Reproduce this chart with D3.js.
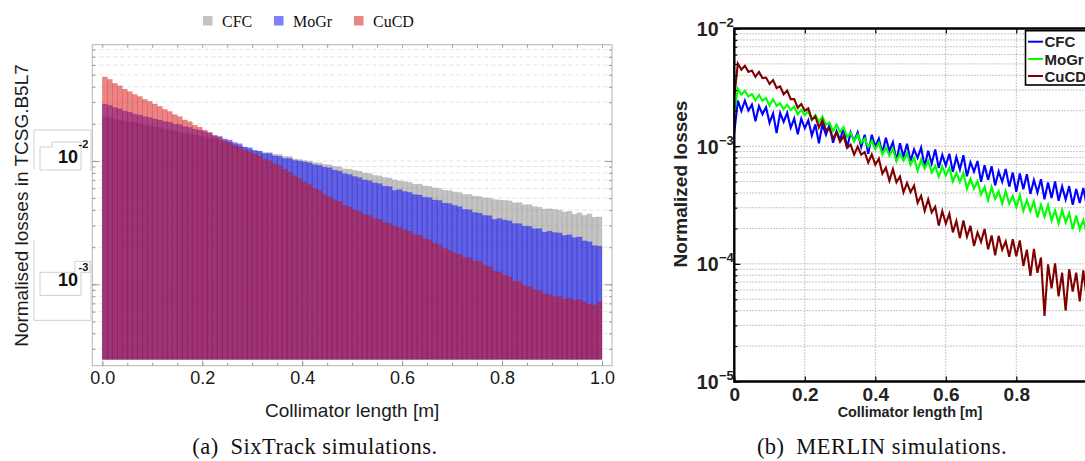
<!DOCTYPE html>
<html>
<head>
<meta charset="utf-8">
<script src="https://cdn.jsdelivr.net/npm/d3@7"></script>
<style>
  body { margin: 0; background: #fff; }
  svg { display: block; }
</style>
</head>
<body>
<svg id="fig" width="1085" height="461"></svg>
<script>
// ---------- data: (a) SixTrack histogram, 100 bins of 0.01 m ----------
const binWidth = 0.01;
const seriesNames = ["CFC", "MoGr", "CuCD"];

const cfcHist = [
  0.0228, 0.0224, 0.0219, 0.0215, 0.0211, 0.0207, 0.0204, 0.0200, 0.0196, 0.0193,
  0.0189, 0.0186, 0.0182, 0.0179, 0.0175, 0.0172, 0.0169, 0.0166, 0.0163, 0.0160,
  0.0157, 0.0154, 0.0151, 0.0148, 0.0145, 0.0142, 0.0137, 0.0133, 0.0129, 0.0125,
  0.0121, 0.0120, 0.0117, 0.0117, 0.0113, 0.0113, 0.0109, 0.0109, 0.0104, 0.0103,
  0.0101, 0.00998, 0.00970, 0.00965, 0.00938, 0.00932, 0.00905, 0.00895, 0.00862, 0.00858,
  0.00838, 0.00826, 0.00798, 0.00792, 0.00765, 0.00758, 0.00735, 0.00728, 0.00702, 0.00690,
  0.00682, 0.00672, 0.00650, 0.00650, 0.00628, 0.00624, 0.00605, 0.00598, 0.00578, 0.00575,
  0.00561, 0.00555, 0.00536, 0.00536, 0.00518, 0.00515, 0.00503, 0.00500, 0.00486, 0.00483,
  0.00480, 0.00475, 0.00458, 0.00460, 0.00442, 0.00443, 0.00428, 0.00422, 0.00408, 0.00410,
  0.00405, 0.00400, 0.00386, 0.00390, 0.00370, 0.00380, 0.00362, 0.00372, 0.00350, 0.00352
];
const mogrHist = [
  0.0290, 0.0283, 0.0271, 0.0265, 0.0254, 0.0249, 0.0240, 0.0236, 0.0229, 0.0225,
  0.0219, 0.0215, 0.0209, 0.0206, 0.0199, 0.0197, 0.0190, 0.0187, 0.0181, 0.0178,
  0.0173, 0.0168, 0.0161, 0.0158, 0.0151, 0.0148, 0.0141, 0.0138, 0.0130, 0.0128,
  0.0122, 0.0120, 0.0115, 0.0115, 0.0110, 0.0109, 0.0105, 0.0105, 0.0101, 0.0100,
  0.00982, 0.00965, 0.00932, 0.00922, 0.00890, 0.00880, 0.00843, 0.00828, 0.00790, 0.00776,
  0.00748, 0.00732, 0.00702, 0.00692, 0.00664, 0.00655, 0.00625, 0.00620, 0.00578, 0.00586,
  0.00566, 0.00556, 0.00534, 0.00530, 0.00508, 0.00504, 0.00483, 0.00478, 0.00455, 0.00452,
  0.00436, 0.00426, 0.00405, 0.00402, 0.00382, 0.00378, 0.00362, 0.00360, 0.00336, 0.00342,
  0.00332, 0.00327, 0.00311, 0.00310, 0.00296, 0.00295, 0.00282, 0.00283, 0.00265, 0.00270,
  0.00263, 0.00261, 0.00249, 0.00252, 0.00239, 0.00242, 0.00225, 0.00221, 0.00206, 0.00204
];
const cucdHist = [
  0.0480, 0.0458, 0.0426, 0.0407, 0.0382, 0.0365, 0.0346, 0.0333, 0.0316, 0.0304,
  0.0290, 0.0277, 0.0262, 0.0252, 0.0238, 0.0229, 0.0215, 0.0208, 0.0195, 0.0188,
  0.0178, 0.0171, 0.0160, 0.0155, 0.0146, 0.0141, 0.0133, 0.0130, 0.0123, 0.0119,
  0.0114, 0.0110, 0.0103, 0.0100, 0.00950, 0.00915, 0.00855, 0.00812, 0.00758, 0.00720,
  0.00676, 0.00642, 0.00600, 0.00575, 0.00536, 0.00513, 0.00485, 0.00467, 0.00438, 0.00424,
  0.00401, 0.00389, 0.00368, 0.00362, 0.00342, 0.00335, 0.00318, 0.00312, 0.00295, 0.00289,
  0.00276, 0.00269, 0.00252, 0.00250, 0.00234, 0.00230, 0.00215, 0.00209, 0.00195, 0.00189,
  0.00179, 0.00175, 0.00165, 0.00164, 0.00154, 0.00153, 0.00143, 0.00139, 0.00128, 0.00126,
  0.00119, 0.00115, 0.00106, 0.00105, 0.000975, 0.000955, 0.000905, 0.000890, 0.000835, 0.000825,
  0.000789, 0.000800, 0.000760, 0.000775, 0.000740, 0.000750, 0.000720, 0.000690, 0.000680, 0.000720
];

// ---------- data: (b) MERLIN losses, sampled every 0.01 m ----------
const lossStep = 0.01;
const cfcLoss = [
  1.30e-3, 2.44e-3, 1.99e-3, 2.44e-3, 2.01e-3, 2.26e-3, 1.63e-3, 2.19e-3, 1.87e-3, 2.14e-3,
  1.58e-3, 1.90e-3, 1.29e-3, 1.92e-3, 1.61e-3, 1.92e-3, 1.43e-3, 1.72e-3, 1.26e-3, 1.71e-3,
  1.42e-3, 1.66e-3, 1.23e-3, 1.53e-3, 1.06e-3, 1.53e-3, 1.25e-3, 1.52e-3, 1.07e-3, 1.34e-3,
  1.13e-3, 1.43e-3, 9.64e-4, 1.31e-3, 1.11e-3, 1.31e-3, 9.86e-4, 1.25e-3, 8.59e-4, 1.25e-3,
  9.90e-4, 1.16e-3, 8.72e-4, 1.18e-3, 9.10e-4, 1.08e-3, 7.50e-4, 1.06e-3, 8.14e-4, 1.05e-3,
  7.48e-4, 9.38e-4, 7.96e-4, 9.72e-4, 6.73e-4, 9.13e-4, 7.10e-4, 9.37e-4, 6.53e-4, 8.43e-4,
  6.84e-4, 8.63e-4, 6.07e-4, 8.10e-4, 6.34e-4, 8.38e-4, 5.54e-4, 7.31e-4, 6.08e-4, 7.48e-4,
  4.98e-4, 6.89e-4, 5.17e-4, 6.75e-4, 4.64e-4, 6.10e-4, 4.98e-4, 6.39e-4, 4.53e-4, 5.96e-4,
  4.10e-4, 5.85e-4, 4.31e-4, 5.78e-4, 3.93e-4, 5.15e-4, 4.04e-4, 5.23e-4, 3.54e-4, 4.92e-4,
  3.63e-4, 5.01e-4, 3.44e-4, 4.54e-4, 3.51e-4, 4.58e-4, 3.18e-4, 4.33e-4, 3.29e-4, 4.41e-4, 3.12e-4
];
const mogrLoss = [
  1.90e-3, 3.07e-3, 2.74e-3, 2.96e-3, 2.64e-3, 2.77e-3, 2.45e-3, 2.72e-3, 2.43e-3, 2.56e-3,
  2.21e-3, 2.51e-3, 2.20e-3, 2.31e-3, 2.06e-3, 2.25e-3, 2.03e-3, 2.17e-3, 1.86e-3, 2.04e-3,
  1.83e-3, 1.99e-3, 1.66e-3, 1.84e-3, 1.61e-3, 1.79e-3, 1.52e-3, 1.59e-3, 1.34e-3, 1.52e-3,
  1.32e-3, 1.45e-3, 1.20e-3, 1.30e-3, 1.10e-3, 1.25e-3, 1.07e-3, 1.16e-3, 9.84e-4, 1.11e-3,
  9.40e-4, 1.07e-3, 8.51e-4, 9.75e-4, 8.31e-4, 9.48e-4, 7.45e-4, 8.65e-4, 7.54e-4, 8.67e-4,
  6.92e-4, 7.95e-4, 6.18e-4, 7.68e-4, 6.46e-4, 7.48e-4, 5.97e-4, 6.79e-4, 5.49e-4, 6.70e-4,
  5.64e-4, 6.54e-4, 5.01e-4, 5.93e-4, 4.96e-4, 5.93e-4, 4.35e-4, 5.27e-4, 4.37e-4, 5.03e-4,
  3.89e-4, 4.51e-4, 3.47e-4, 4.50e-4, 3.56e-4, 4.14e-4, 3.25e-4, 4.14e-4, 3.24e-4, 3.78e-4,
  3.05e-4, 3.84e-4, 2.82e-4, 3.48e-4, 2.80e-4, 3.38e-4, 2.48e-4, 3.17e-4, 2.51e-4, 3.16e-4,
  2.34e-4, 2.85e-4, 2.20e-4, 2.87e-4, 2.25e-4, 2.70e-4, 1.97e-4, 2.58e-4, 1.96e-4, 2.35e-4, 1.80e-4
];
const cucdLoss = [
  2.60e-3, 5.04e-3, 4.47e-3, 4.82e-3, 4.28e-3, 4.40e-3, 3.88e-3, 4.28e-3, 3.79e-3, 3.83e-3,
  3.38e-3, 3.64e-3, 3.12e-3, 3.22e-3, 2.76e-3, 2.97e-3, 2.51e-3, 2.51e-3, 2.12e-3, 2.28e-3,
  2.00e-3, 2.09e-3, 1.68e-3, 1.79e-3, 1.44e-3, 1.66e-3, 1.37e-3, 1.40e-3, 1.16e-3, 1.31e-3,
  1.09e-3, 1.22e-3, 9.66e-4, 1.03e-3, 8.48e-4, 9.92e-4, 8.48e-4, 8.89e-4, 7.25e-4, 8.50e-4,
  6.96e-4, 7.84e-4, 5.83e-4, 6.57e-4, 5.09e-4, 6.38e-4, 4.93e-4, 5.52e-4, 4.05e-4, 4.87e-4,
  4.06e-4, 4.62e-4, 3.30e-4, 3.78e-4, 2.82e-4, 3.54e-4, 2.74e-4, 3.05e-4, 2.11e-4, 2.81e-4,
  2.20e-4, 2.67e-4, 1.85e-4, 2.31e-4, 1.66e-4, 2.34e-4, 1.70e-4, 2.10e-4, 1.42e-4, 1.85e-4,
  1.54e-4, 1.98e-4, 1.33e-4, 1.74e-4, 1.18e-4, 1.73e-4, 1.32e-4, 1.55e-4, 1.15e-4, 1.62e-4,
  1.16e-4, 1.58e-4, 9.6e-5, 1.32e-4, 7.9e-5, 1.34e-4, 8.4e-5, 1.13e-4, 3.6e-5, 9.9e-5,
  6.2e-5, 1.01e-4, 5.3e-5, 8.4e-5, 4.0e-5, 9.0e-5, 5.8e-5, 8.4e-5, 4.8e-5, 8.8e-5, 5.1e-5
];

// tick labels
const xTicksA = [0, 0.2, 0.4, 0.6, 0.8, 1.0];
const xMinorA = [0, 0.05, 0.1, 0.15, 0.2, 0.25, 0.3, 0.35, 0.4, 0.45, 0.5,
                 0.55, 0.6, 0.65, 0.7, 0.75, 0.8, 0.85, 0.9, 0.95, 1.0];
const decadesA = [1e-3, 1e-2];
const xTicksB = [0, 0.2, 0.4, 0.6, 0.8];
const decadesB = [1e-5, 1e-4, 1e-3, 1e-2];

const sans = "'Liberation Sans', Arial, Helvetica, sans-serif";
const serif = "'Liberation Serif', 'Times New Roman', serif";

const svg = d3.select("#fig");

// =====================================================================
// (a) SixTrack simulations
// =====================================================================
const frameA = {left: 92.3, right: 612, top: 44.7, bottom: 365.7};
const xA = d3.scaleLinear().domain([0, 1]).range([102.3, 602]);
const yA = d3.scaleLog().domain([2.466e-4, 0.0877]).range([359.3, 44.7]);
const gA = svg.append("g");

// faint dashed grid at every log tick
gA.append("g").selectAll("line")
  .data(yA.ticks())
  .join("line")
  .attr("x1", frameA.left).attr("x2", frameA.right)
  .attr("y1", d => yA(d)).attr("y2", d => yA(d))
  .attr("stroke", "#e2e2e2")
  .attr("stroke-dasharray", "4,3");

// overlapping histograms, drawn in legend order
const histSeries = [
  {name: "CFC", values: cfcHist, color: "rgb(136,136,136)"},
  {name: "MoGr", values: mogrHist, color: "rgb(0,0,255)"},
  {name: "CuCD", values: cucdHist, color: "rgb(215,10,10)"}
];
const barW = xA(binWidth) - xA(0);
histSeries.forEach(s => {
  gA.append("g").selectAll("rect")
    .data(s.values)
    .join("rect")
    .attr("x", (d, i) => xA(i * binWidth))
    .attr("width", barW)
    .attr("y", d => yA(d))
    .attr("height", d => yA.range()[0] - yA(d))
    .attr("fill", s.color)
    .attr("fill-opacity", 0.5)
    .attr("stroke", s.color)
    .attr("stroke-opacity", 0.25)
    .attr("stroke-width", 0.6);
});

// frame
gA.append("rect")
  .attr("x", frameA.left).attr("y", frameA.top)
  .attr("width", frameA.right - frameA.left)
  .attr("height", frameA.bottom - frameA.top)
  .attr("fill", "none").attr("stroke", "#b4b4b4");

function styleTicks(g) {
  g.select(".domain").remove();
  g.selectAll(".tick line").attr("stroke", "#9a9a9a");
}

// inward ticks on all four sides
gA.append("g").attr("transform", `translate(0,${frameA.bottom})`)
  .call(d3.axisBottom(xA).tickValues(xMinorA).tickSize(-3).tickFormat(""))
  .call(styleTicks);
gA.append("g").attr("transform", `translate(0,${frameA.top})`)
  .call(d3.axisTop(xA).tickValues(xMinorA).tickSize(-3).tickFormat(""))
  .call(styleTicks);
gA.append("g").attr("transform", `translate(0,${frameA.bottom})`)
  .call(d3.axisBottom(xA).tickValues(xTicksA).tickSize(-5).tickPadding(6)
        .tickFormat(d3.format(".1f")))
  .call(styleTicks)
  .call(g => g.selectAll("text")
      .attr("font-family", sans).attr("font-size", 18).attr("fill", "#1a1a1a"));

[[frameA.left, d3.axisLeft], [frameA.right, d3.axisRight]].forEach(([xp, ax]) => {
  gA.append("g").attr("transform", `translate(${xp},0)`)
    .call(ax(yA).tickValues(yA.ticks()).tickSize(-3).tickFormat(""))
    .call(styleTicks);
  gA.append("g").attr("transform", `translate(${xp},0)`)
    .call(ax(yA).tickValues(decadesA).tickSize(-7).tickFormat(""))
    .call(styleTicks);
});

// boxed decade labels (as exported)
const labelBoxes = gA.append("g").attr("fill", "none")
  .attr("stroke", "#cfcfcf").attr("stroke-width", 1);
decadesA.forEach(d => {
  const y = yA(d);
  if (d === 1e-2) {
    labelBoxes.append("path").attr("d", `M34,${y + 8} V${y - 31} H91 V${y + 10}`);
    labelBoxes.append("path").attr("d", `M40,${y + 9} V${y - 14} H52 V${y - 19} H81 V${y + 9} Z`);
  } else {
    labelBoxes.append("path").attr("d", `M34,${y - 44} V${y + 36} H91 V${y - 24}`);
    labelBoxes.append("path").attr("d", `M40,${y + 11} V${y - 12} H75 V${y - 23} H90 V${y - 12} H81 V${y + 11} Z`);
  }
  gA.append("text").attr("x", 78).attr("y", y - 4)
    .attr("text-anchor", "end").attr("dominant-baseline", "central")
    .attr("font-family", sans).attr("font-weight", "bold").attr("font-size", 18)
    .attr("fill", "#111").text("10");
  gA.append("text").attr("x", 78.5).attr("y", y - 17)
    .attr("dominant-baseline", "central")
    .attr("font-family", sans).attr("font-weight", "bold").attr("font-size", 11)
    .attr("fill", "#111").text(d === 1e-2 ? "-2" : "-3");
});

// titles
gA.append("text")
  .attr("transform", `translate(21,${(63 + 348) / 2}) rotate(-90)`)
  .attr("text-anchor", "middle").attr("dominant-baseline", "central")
  .attr("font-family", sans).attr("font-size", 19).attr("fill", "#1a1a1a")
  .text("Normalised losses in TCSG.B5L7");
gA.append("text")
  .attr("x", (xA(0) + xA(1)) / 2).attr("y", 410)
  .attr("text-anchor", "middle").attr("dominant-baseline", "central")
  .attr("font-family", sans).attr("font-size", 19).attr("fill", "#1a1a1a")
  .text("Collimator length [m]");

// legend on top
const legendA = gA.append("g");
const legendX = [203, 274, 354];
histSeries.forEach((s, i) => {
  legendA.append("rect").attr("x", legendX[i]).attr("y", 16)
    .attr("width", 9.5).attr("height", 9.5)
    .attr("fill", s.color).attr("fill-opacity", 0.5);
  legendA.append("text").attr("x", legendX[i] + 19).attr("y", 21)
    .attr("dominant-baseline", "central")
    .attr("font-family", serif).attr("font-size", 16).attr("fill", "#111")
    .text(s.name);
});

// caption
svg.append("text").attr("x", 315).attr("y", 446)
  .attr("text-anchor", "middle").attr("dominant-baseline", "central")
  .attr("font-family", serif).attr("font-size", 22.5).attr("letter-spacing", 0.5)
  .attr("fill", "#111")
  .text("(a)\u2002SixTrack simulations.");

// =====================================================================
// (b) MERLIN simulations
// =====================================================================
const frameB = {left: 734.3, right: 1086.8, top: 28.5, bottom: 381.5};
const xB = d3.scaleLinear().domain([0, 1]).range([frameB.left, frameB.right]);
const yB = d3.scaleLog().domain([1e-5, 1e-2]).range([frameB.bottom, frameB.top]);
const gB = svg.append("g");

// dotted grid
gB.append("g").selectAll("line")
  .data(yB.ticks().filter(d => d > 1e-5 && d < 1e-2))
  .join("line")
  .attr("x1", frameB.left).attr("x2", frameB.right)
  .attr("y1", d => yB(d)).attr("y2", d => yB(d))
  .attr("stroke", "#b4b4b4").attr("stroke-dasharray", "1.5,1.5");
gB.append("g").selectAll("line")
  .data([0.2, 0.4, 0.6, 0.8])
  .join("line")
  .attr("x1", d => xB(d)).attr("x2", d => xB(d))
  .attr("y1", frameB.top).attr("y2", frameB.bottom)
  .attr("stroke", "#b4b4b4").attr("stroke-dasharray", "1.5,1.5");

svg.append("defs").append("clipPath").attr("id", "clipB")
  .append("rect")
  .attr("x", frameB.left).attr("y", frameB.top)
  .attr("width", frameB.right - frameB.left)
  .attr("height", frameB.bottom - frameB.top);

const lossSeries = [
  {name: "CFC", values: cfcLoss, color: "#0000ff"},
  {name: "MoGr", values: mogrLoss, color: "#00ff00"},
  {name: "CuCD", values: cucdLoss, color: "#800000"}
];
const lossLine = d3.line()
  .x((d, i) => xB(i * lossStep))
  .y(d => yB(d));
lossSeries.forEach(s => {
  gB.append("path")
    .datum(s.values)
    .attr("clip-path", "url(#clipB)")
    .attr("d", lossLine)
    .attr("fill", "none")
    .attr("stroke", s.color)
    .attr("stroke-width", 2.1)
    .attr("stroke-linejoin", "miter");
});

// axes
function blackTicks(g) {
  g.select(".domain").remove();
  g.selectAll(".tick line").attr("stroke", "#000").attr("stroke-width", 1.2);
}
gB.append("g").attr("transform", `translate(${frameB.left},0)`)
  .call(d3.axisLeft(yB).tickValues(yB.ticks()).tickSize(-3).tickFormat(""))
  .call(blackTicks);
gB.append("g").attr("transform", `translate(${frameB.left},0)`)
  .call(d3.axisLeft(yB).tickValues(decadesB).tickSize(-6).tickFormat(""))
  .call(blackTicks);
gB.append("g").attr("transform", `translate(0,${frameB.top})`)
  .call(d3.axisTop(xB).tickValues(xTicksB).tickSize(-5).tickFormat(""))
  .call(blackTicks);
gB.append("g").attr("transform", `translate(0,${frameB.bottom})`)
  .call(d3.axisBottom(xB).tickValues(xTicksB).tickSize(-5).tickPadding(6)
        .tickFormat(d => d === 0 ? "0" : d3.format(".1f")(d)))
  .call(blackTicks)
  .call(g => g.selectAll("text")
      .attr("font-family", sans).attr("font-weight", "bold")
      .attr("font-size", 19).attr("fill", "#222"));

// frame borders
gB.append("path")
  .attr("d", `M${frameB.right},${frameB.top} H${frameB.left} V${frameB.bottom} H${frameB.right}`)
  .attr("fill", "none").attr("stroke", "#000").attr("stroke-width", 2.4);

// decade labels 10^-k
decadesB.forEach(d => {
  const y = yB(d);
  gB.append("text").attr("x", 718.5).attr("y", y + 0.5)
    .attr("text-anchor", "end").attr("dominant-baseline", "central")
    .attr("font-family", sans).attr("font-weight", "bold").attr("font-size", 19.5)
    .attr("fill", "#222").text("10");
  gB.append("text").attr("x", 719).attr("y", y - 6)
    .attr("dominant-baseline", "central")
    .attr("font-family", sans).attr("font-weight", "bold").attr("font-size", 13)
    .attr("fill", "#222").text("\u2212" + (-Math.round(Math.log10(d))));
});

// titles
gB.append("text")
  .attr("transform", `translate(680,184) rotate(-90)`)
  .attr("text-anchor", "middle").attr("dominant-baseline", "central")
  .attr("font-family", sans).attr("font-weight", "bold").attr("font-size", 19)
  .attr("fill", "#222").text("Normalized losses");
gB.append("text")
  .attr("x", 910).attr("y", 411.5)
  .attr("text-anchor", "middle").attr("dominant-baseline", "central")
  .attr("font-family", sans).attr("font-weight", "bold").attr("font-size", 14.4)
  .attr("fill", "#222").text("Collimator length [m]");

// legend box
const legendB = gB.append("g");
legendB.append("rect")
  .attr("x", 1025.5).attr("y", 30.7).attr("width", 80).attr("height", 54.3)
  .attr("fill", "#fff").attr("stroke", "#000").attr("stroke-width", 1.6);
const legendY = [41.7, 59, 76];
lossSeries.forEach((s, i) => {
  legendB.append("line")
    .attr("x1", 1028).attr("x2", 1043)
    .attr("y1", legendY[i]).attr("y2", legendY[i])
    .attr("stroke", s.color).attr("stroke-width", 2);
  legendB.append("text").attr("x", 1044.5).attr("y", legendY[i])
    .attr("dominant-baseline", "central")
    .attr("font-family", sans).attr("font-weight", "bold").attr("font-size", 15)
    .attr("fill", "#222").text(s.name);
});

// caption
svg.append("text").attr("x", 882).attr("y", 446)
  .attr("text-anchor", "middle").attr("dominant-baseline", "central")
  .attr("font-family", serif).attr("font-size", 22.5).attr("letter-spacing", 0.5)
  .attr("fill", "#111")
  .text("(b)\u2002MERLIN simulations.");
</script>
</body>
</html>
